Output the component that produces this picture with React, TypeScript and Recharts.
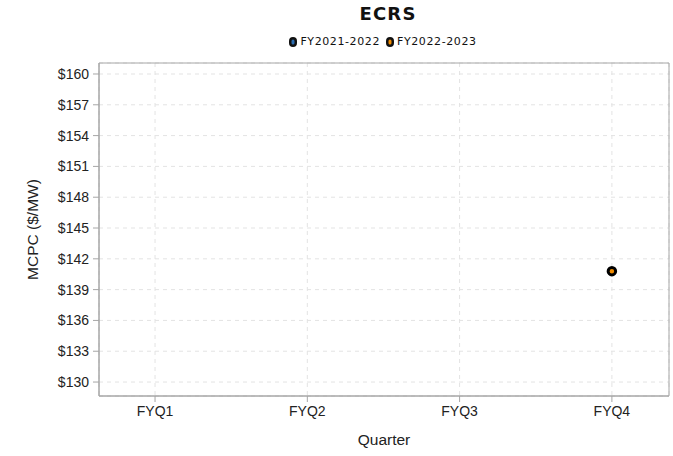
import React from 'react'
import { LineChart, Line, XAxis, YAxis, CartesianGrid, Label, ReferenceArea } from 'recharts'

const quarters = ['FYQ1', 'FYQ2', 'FYQ3', 'FYQ4']
const fy2122: (number | null)[] = [null, null, null, null]
const fy2223: (number | null)[] = [null, null, null, 140.8]
const yTicks = [130, 133, 136, 139, 142, 145, 148, 151, 154, 157, 160]

const SERIES = [
  { key: 'fy2122', name: 'FY2021-2022', color: '#2b6cb0' },
  { key: 'fy2223', name: 'FY2022-2023', color: '#f28c00' },
]

// quarter position 1..4 on a numeric axis so the frame can span the whole plot
const data = quarters.map((q, i) => ({ pos: i + 1, quarter: q, fy2122: fy2122[i], fy2223: fy2223[i] }))
const xTicks = quarters.map((_, i) => i + 1)

const FONT = '"Liberation Sans", Arial, sans-serif'
const AXIS = '#a6a6a6'
const X_DOMAIN: [number, number] = [0.632, 4.375]
const Y_DOMAIN: [number, number] = [128.64, 161.07]

export default function App() {
  return (
    <div style={{ position: 'absolute', left: 0, top: 0, width: 673, height: 456, background: '#fff' }}>
      <div
        style={{
          position: 'absolute',
          top: 3,
          left: 0,
          width: 776,
          textAlign: 'center',
          fontFamily: '"DejaVu Sans", sans-serif',
          fontWeight: 'bold',
          fontSize: 18,
          color: '#111',
          letterSpacing: 1.2,
        }}
      >
        ECRS
      </div>
      <div
        style={{
          position: 'absolute',
          top: 35,
          left: 0,
          width: 766,
          display: 'flex',
          justifyContent: 'center',
          gap: 6,
          fontFamily: '"DejaVu Sans", sans-serif',
          fontSize: 11,
          letterSpacing: 0.6,
          color: '#111',
        }}
      >
        {SERIES.map((s) => (
          <span key={s.key} style={{ display: 'flex', alignItems: 'center', gap: 3 }}>
            <svg width={8} height={10}>
              <rect x={1.25} y={1.25} width={5.5} height={7.5} rx={2.75} fill={s.color} stroke="#111" strokeWidth={2.5} />
            </svg>
            {s.name}
          </span>
        ))}
      </div>
      <LineChart width={673} height={456} data={data} margin={{ top: 63, right: 4, bottom: 0, left: 0 }}>
        <CartesianGrid stroke="#e3e3e3" strokeDasharray="4 4" />
        <XAxis
          dataKey="pos"
          type="number"
          domain={X_DOMAIN}
          ticks={xTicks}
          tickFormatter={(v: number) => quarters[v - 1]}
          height={60}
          stroke={AXIS}
          tickSize={6}
          tickMargin={4}
          tick={{ fill: '#222', fontSize: 14, fontFamily: FONT }}
        >
          <Label value="Quarter" position="insideBottom" offset={11} style={{ fill: '#222', fontSize: 15.5, fontFamily: FONT }} />
        </XAxis>
        <YAxis
          domain={Y_DOMAIN}
          ticks={yTicks}
          width={99}
          stroke={AXIS}
          tickSize={6}
          tickMargin={4}
          tickFormatter={(v: number) => `$${v}`}
          tick={{ fill: '#222', fontSize: 14, fontFamily: FONT }}
        >
          <Label
            value="MCPC ($/MW)"
            angle={-90}
            position="insideLeft"
            offset={32}
            style={{ textAnchor: 'middle', fill: '#222', fontSize: 15.5, fontFamily: FONT }}
          />
        </YAxis>
        <ReferenceArea y1={Y_DOMAIN[0]} y2={Y_DOMAIN[1]} fill="none" stroke={AXIS} strokeWidth={1} ifOverflow="visible" />
        {SERIES.map((s) => (
          <Line
            key={s.key}
            dataKey={s.key}
            name={s.name}
            stroke="none"
            isAnimationActive={false}
            dot={{ r: 3.75, fill: s.color, stroke: '#000', strokeWidth: 3 }}
            activeDot={false}
          />
        ))}
      </LineChart>
    </div>
  )
}
